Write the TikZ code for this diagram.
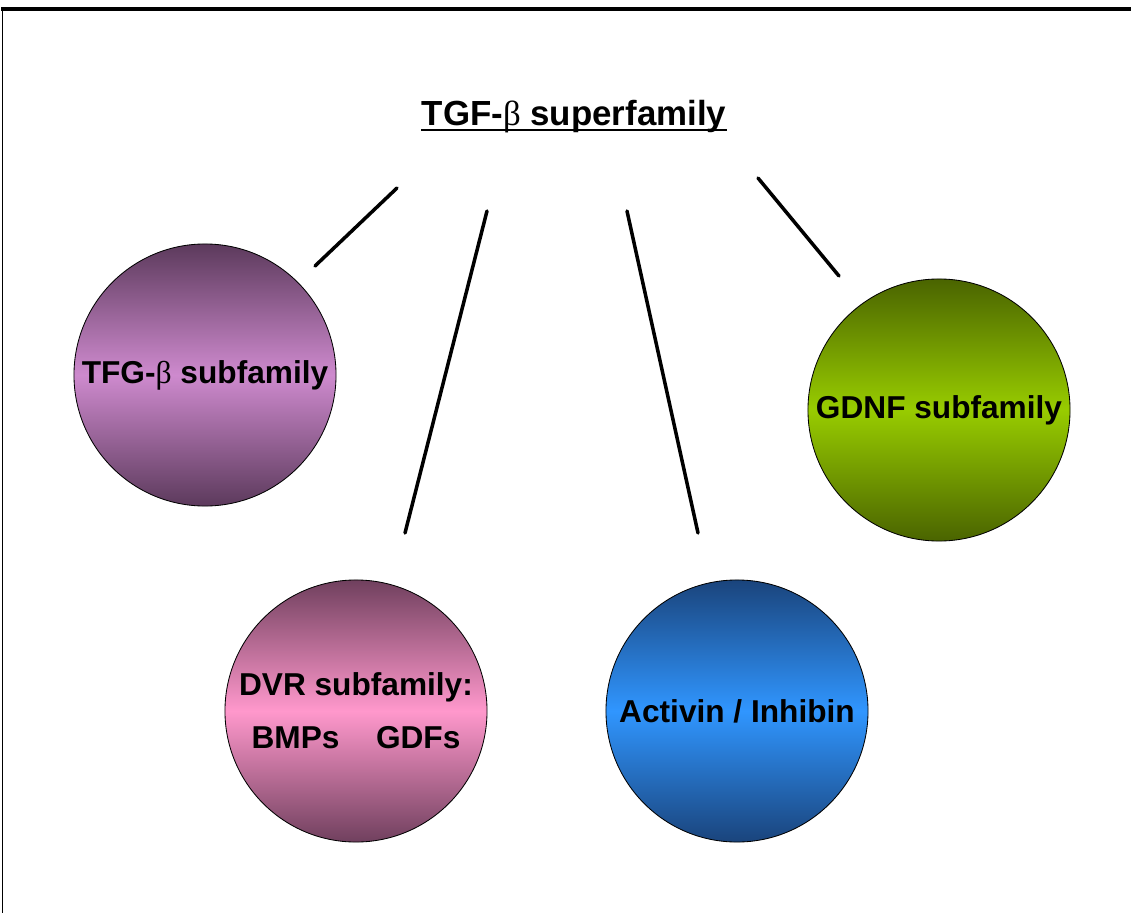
\documentclass[tikz,border=0pt]{standalone}
\usepackage{fontspec}
\setmainfont{Liberation Sans}
\newfontfamily\greekfont{Liberation Serif}
\usetikzlibrary{positioning,calc}
\definecolor{PlumDark}{RGB}{92,58,92}
\definecolor{PlumLight}{RGB}{206,138,206}
\definecolor{RoseDark}{RGB}{112,64,94}
\definecolor{RoseLight}{RGB}{255,152,204}
\definecolor{SeaDark}{RGB}{26,68,124}
\definecolor{SeaLight}{RGB}{48,150,255}
\definecolor{OliveDark}{RGB}{74,100,0}
\definecolor{OliveLight}{RGB}{152,204,0}
\newcommand{\gbeta}{{\greekfont\mdseries β}}

\begin{document}
\begin{tikzpicture}[x=0.025cm, y=-0.025cm, every node/.style={align=center}]
\tikzset{
  fam/.style={circle, draw=black, line width=0.6pt, inner sep=0pt, minimum size=6.55cm,
    font=\fontsize{22.5}{37.5}\selectfont\bfseries},
  link/.style={line width=2.5pt, line cap=round}
}
  \useasboundingbox (0,0) rectangle (1131,913);
  % frame, only top and left edge visible
  \draw[line width=2.2pt] (1.5,9) -- (1131,9);
  \draw[line width=0.8pt] (2.5,9) -- (2.5,913);

  \node[font=\fontsize{24.8}{28}\selectfont\bfseries, inner sep=0pt, anchor=base] (super) at (574,125)
    {TGF-\gbeta{} superfamily};
  \draw[line width=1.8pt] ($(super.base west)+(0,5)$) -- ($(super.base east)+(0,5)$);

  \node[fam, top color=PlumDark, bottom color=PlumDark, middle color=PlumLight] (tgfb) at (205,375)
    {TFG-\gbeta{} subfamily};
  \node[fam, top color=OliveDark, bottom color=OliveDark, middle color=OliveLight] (gdnf) at (939,410)
    {GDNF subfamily};
  \node[fam, top color=RoseDark, bottom color=RoseDark, middle color=RoseLight] (dvr) at (356,711)
    {DVR subfamily:\\BMPs\hspace{26pt}GDFs};
  \node[fam, top color=SeaDark, bottom color=SeaDark, middle color=SeaLight] (activ) at (737,711)
    {Activin / Inhibin};

  % loose ends of the branch lines
  \coordinate (b1) at (397,188);
  \coordinate (e1) at (315,266);
  \coordinate (b2) at (487,211);
  \coordinate (e2) at (405,533);
  \coordinate (b3) at (627,211);
  \coordinate (e3) at (698,533);
  \coordinate (b4) at (758,178);
  \coordinate (e4) at (839,276);
  \draw[link] (b1) -- (e1);
  \draw[link] (b2) -- (e2);
  \draw[link] (b3) -- (e3);
  \draw[link] (b4) -- (e4);
\end{tikzpicture}
\end{document}
